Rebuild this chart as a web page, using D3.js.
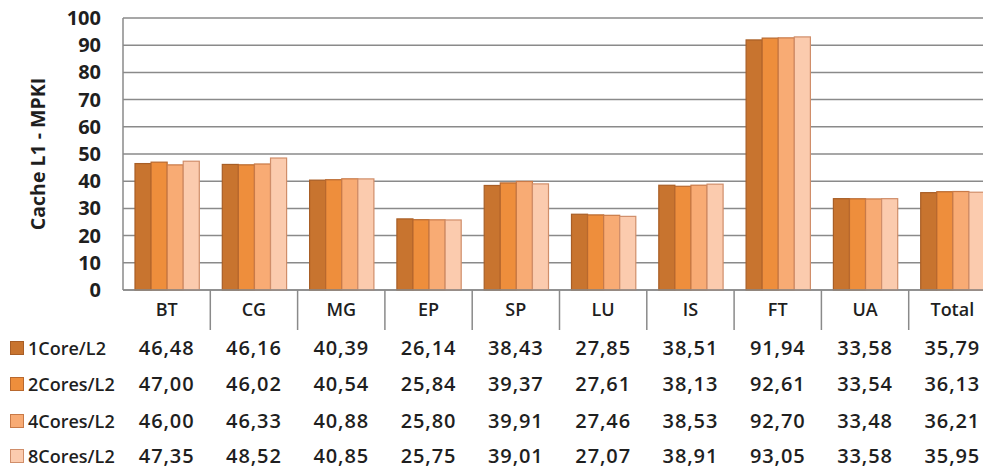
<!DOCTYPE html>
<html>
<head>
<meta charset="utf-8">
<script src="https://cdn.jsdelivr.net/npm/d3@7"></script>
<style>
  html, body { margin: 0; padding: 0; background: #fff; }
  svg { display: block; }
  text { font-family: "Open Sans", Lato, sans-serif; fill: #1f1f1f; }
</style>
</head>
<body>
<svg id="chart" width="983" height="470"></svg>
<script>
const categories = ["BT", "CG", "MG", "EP", "SP", "LU", "IS", "FT", "UA", "Total"];
const seriesNames = ["1Core/L2", "2Cores/L2", "4Cores/L2", "8Cores/L2"];
const core1 = [46.48, 46.16, 40.39, 26.14, 38.43, 27.85, 38.51, 91.94, 33.58, 35.79];
const cores2 = [47.00, 46.02, 40.54, 25.84, 39.37, 27.61, 38.13, 92.61, 33.54, 36.13];
const cores4 = [46.00, 46.33, 40.88, 25.80, 39.91, 27.46, 38.53, 92.70, 33.48, 36.21];
const cores8 = [47.35, 48.52, 40.85, 25.75, 39.01, 27.07, 38.91, 93.05, 33.58, 35.95];
const yTicks = [0, 10, 20, 30, 40, 50, 60, 70, 80, 90, 100];
const yTitle = "Cache L1 - MPKI";

const seriesValues = [core1, cores2, cores4, cores8];
const fills = ["#C8742F", "#EE8E3C", "#F8AB74", "#FBCBAE"];
const strokes = ["#A85E26", "#B8682E", "#C87A48", "#D08E6A"];

const svg = d3.select("#chart");
const pLeft = 123, pRight = 996, pTop = 18, pBottom = 290;

const x0 = d3.scaleBand().domain(categories).range([pLeft, pRight]).padding(0);
const x1 = d3.scaleBand().domain(seriesNames).range([12, x0.bandwidth() - 11]).padding(0);
const y = d3.scaleLinear().domain([0, 100]).range([pBottom, pTop]);

// gridlines
svg.append("g").selectAll("line").data(yTicks).join("line")
  .attr("x1", pLeft).attr("x2", pRight)
  .attr("y1", d => y(d)).attr("y2", d => y(d))
  .attr("stroke", "#8a8a8a").attr("stroke-width", 1.5);

// left border
svg.append("line").attr("x1", pLeft).attr("x2", pLeft).attr("y1", y(100)).attr("y2", y(0))
  .attr("stroke", "#8a8a8a").attr("stroke-width", 1.5);

// y tick labels
svg.append("g").selectAll("text").data(yTicks).join("text")
  .attr("x", 101).attr("y", d => y(d) + 7)
  .attr("text-anchor", "end")
  .attr("font-size", 20).attr("font-weight", 700)
  .text(d => d);

// y title
svg.append("text")
  .attr("transform", `translate(45,${154}) rotate(-90)`)
  .attr("text-anchor", "middle")
  .attr("font-size", 19.5).attr("font-weight", 700)
  .text(yTitle);

// bars
const groups = svg.append("g").selectAll("g").data(categories).join("g")
  .attr("transform", d => `translate(${x0(d)},0)`);
groups.selectAll("rect").data((c, ci) => seriesNames.map((s, si) => ({s, si, v: seriesValues[si][ci]})))
  .join("rect")
  .attr("x", d => x1(d.s)).attr("width", x1.bandwidth())
  .attr("y", d => y(d.v)).attr("height", d => y(0) - y(d.v))
  .attr("fill", d => fills[d.si]).attr("stroke", d => strokes[d.si]).attr("stroke-width", 1.2);

// x axis line
svg.append("line").attr("x1", pLeft).attr("x2", pRight).attr("y1", pBottom).attr("y2", pBottom)
  .attr("stroke", "#8a8a8a").attr("stroke-width", 1.5);

// category dividers
svg.append("g").selectAll("line").data(categories.slice(1)).join("line")
  .attr("x1", d => x0(d)).attr("x2", d => x0(d))
  .attr("y1", pBottom).attr("y2", 330)
  .attr("stroke", "#8a8a8a").attr("stroke-width", 1.5);

// category labels
svg.append("g").selectAll("text").data(categories).join("text")
  .attr("x", d => x0(d) + x0.bandwidth() / 2).attr("y", 316)
  .attr("text-anchor", "middle")
  .attr("font-size", 18).attr("font-weight", 600)
  .text(d => d);

// data table
const rowY = [355, 391, 428, 463];
const fmt = v => v.toFixed(2).replace(".", ",");
seriesNames.forEach((s, si) => {
  const row = svg.append("g");
  row.append("rect").attr("x", 10.5).attr("y", rowY[si] - 13.5).attr("width", 13).attr("height", 13)
    .attr("fill", fills[si]).attr("stroke", strokes[si]).attr("stroke-width", 1);
  row.append("text").attr("x", 28).attr("y", rowY[si])
    .attr("font-size", 18).attr("font-weight", 600)
    .text(s);
  row.selectAll("text.v").data(categories).join("text").attr("class", "v")
    .attr("x", d => x0(d) + x0.bandwidth() / 2).attr("y", rowY[si])
    .attr("text-anchor", "middle")
    .attr("font-size", 20).attr("font-weight", 600)
    .attr("letter-spacing", 0.9)
    .text((d, ci) => fmt(seriesValues[si][ci]));
});
</script>
</body>
</html>
